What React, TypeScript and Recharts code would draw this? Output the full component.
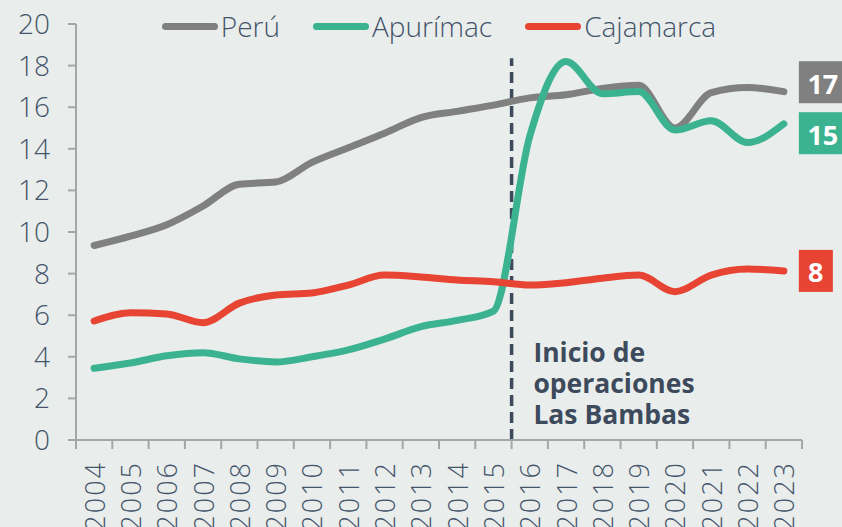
import React from "react";
import {
  LineChart,
  Line,
  XAxis,
  YAxis,
  Legend,
  ReferenceLine,
  ReferenceDot,
} from "recharts";

const years = [
  2004, 2005, 2006, 2007, 2008, 2009, 2010, 2011, 2012, 2013, 2014, 2015,
  2016, 2017, 2018, 2019, 2020, 2021, 2022, 2023,
];
const peru = [
  9.35, 9.8, 10.35, 11.25, 12.3, 12.4, 13.35, 14.05, 14.75, 15.5, 15.8, 16.1,
  16.45, 16.6, 16.9, 17.05, 15.0, 16.7, 16.95, 16.75,
];
const apurimac = [
  3.45, 3.7, 4.05, 4.2, 3.9, 3.75, 4.0, 4.33, 4.85, 5.45, 5.75, 6.2, 14.6,
  18.2, 16.65, 16.75, 14.9, 15.35, 14.3, 15.2,
];
const cajamarca = [
  5.72, 6.12, 6.06, 5.64, 6.58, 6.97, 7.07, 7.45, 7.93, 7.84, 7.69, 7.61,
  7.45, 7.56, 7.78, 7.93, 7.13, 7.93, 8.22, 8.13,
];
const yTicks = [0, 2, 4, 6, 8, 10, 12, 14, 16, 18, 20];
const boundaryTicks = [
  2003.5, 2004.5, 2005.5, 2006.5, 2007.5, 2008.5, 2009.5, 2010.5, 2011.5,
  2012.5, 2013.5, 2014.5, 2015.5, 2016.5, 2017.5, 2018.5, 2019.5, 2020.5,
  2021.5, 2022.5, 2023.5,
];

const series = [
  { key: "peru", name: "Perú", color: "#808080", end: "17", endY: 17.2 },
  { key: "apurimac", name: "Apurímac", color: "#3bb391", end: "15", endY: 14.75 },
  { key: "cajamarca", name: "Cajamarca", color: "#e84433", end: "8", endY: 8.13 },
];

const startYear = 2015.5;
const startTop = 18.35;
const noteLines = ["Inicio de", "operaciones", "Las Bambas"];

const data = years.map((year, i) => ({
  year,
  peru: peru[i],
  apurimac: apurimac[i],
  cajamarca: cajamarca[i],
}));

const FONT = "'Open Sans', sans-serif";
const TEXT = "#44546a";
const AXIS = "#a6a6a6";
const BG = "#e9edec";

function YearTick(props: any) {
  const { x, y, payload } = props;
  return (
    <text
      x={x}
      y={y}
      transform={`rotate(-90, ${x}, ${y})`}
      textAnchor="end"
      dominantBaseline="central"
      fill={TEXT}
      fontSize={27}
      fontWeight={300}
      letterSpacing={2}
      fontFamily={FONT}
    >
      {payload.value}
    </text>
  );
}

function LegendContent() {
  return (
    <div
      style={{
        display: "flex",
        justifyContent: "center",
        gap: 33,
        fontFamily: FONT,
        fontSize: 28,
        fontWeight: 300,
        color: TEXT,
        lineHeight: "38px",
      }}
    >
      {series.map((s) => (
        <div key={s.key} style={{ display: "flex", alignItems: "center" }}>
          <span
            style={{
              display: "inline-block",
              width: 56,
              height: 7,
              borderRadius: 4,
              background: s.color,
              marginRight: 3,
            }}
          />
          <span>{s.name}</span>
        </div>
      ))}
    </div>
  );
}

function EndBox(label: string, color: string) {
  return (props: any) => {
    const { cx, cy } = props;
    const w = label.length > 1 ? 48 : 34;
    return (
      <g>
        <rect x={cx + 15} y={cy - 21} width={w} height={42} fill={color} />
        <text
          x={cx + 15 + (label.length > 1 ? 24 : 17)}
          y={cy + 1}
          textAnchor="middle"
          dominantBaseline="central"
          fill="#ffffff"
          fontSize={27}
          fontWeight={700}
          fontFamily={FONT}
        >
          {label}
        </text>
      </g>
    );
  };
}

function Note(props: any) {
  const { cx, cy } = props;
  return (
    <text
      x={cx}
      y={cy}
      fill="#3d4a5c"
      fontSize={26.5}
      fontWeight={700}
      fontFamily={FONT}
      dominantBaseline="central"
    >
      {noteLines.map((t, i) => (
        <tspan key={t} x={cx} dy={i === 0 ? 0 : 31}>
          {t}
        </tspan>
      ))}
    </text>
  );
}

export default function App() {
  return (
    <div
      style={{
        position: "fixed",
        left: 0,
        top: 0,
        width: 842,
        height: 527,
        background: BG,
        overflow: "hidden",
      }}
    >
      <LineChart
        width={842}
        height={527}
        data={data}
        margin={{ top: 24, right: 40, bottom: 0, left: 0 }}
      >
        <XAxis
          xAxisId="labels"
          dataKey="year"
          type="number"
          domain={[2003.5, 2023.5]}
          ticks={years}
          interval={0}
          height={86}
          axisLine={false}
          tickLine={false}
          tickSize={8}
          tickMargin={12}
          tick={<YearTick />}
        />
        <XAxis
          dataKey="year"
          type="number"
          domain={[2003.5, 2023.5]}
          ticks={boundaryTicks}
          interval={0}
          tickFormatter={() => ""}
          height={1}
          tickSize={9}
          axisLine={{ stroke: AXIS, strokeWidth: 2 }}
          tickLine={{ stroke: AXIS, strokeWidth: 2 }}
        />
        <YAxis
          domain={[0, 20]}
          ticks={yTicks}
          width={76}
          interval={0}
          tickSize={8}
          tickMargin={18}
          axisLine={{ stroke: AXIS, strokeWidth: 2 }}
          tickLine={{ stroke: AXIS, strokeWidth: 2 }}
          tick={{ fill: TEXT, fontSize: 28, fontWeight: 300, fontFamily: FONT }}
        />
        <Legend
          verticalAlign="middle"
          layout="horizontal"
          wrapperStyle={{ top: 7, left: 76, width: 726 }}
          content={<LegendContent />}
        />
        <ReferenceLine
          segment={[
            { x: startYear, y: 0 },
            { x: startYear, y: startTop },
          ]}
          stroke="#3d4a5c"
          strokeWidth={3.5}
          strokeDasharray="11 6"
        />
        {series.map((s) => (
          <Line
            key={s.key}
            dataKey={s.key}
            name={s.name}
            type="monotone"
            stroke={s.color}
            strokeWidth={7}
            strokeLinecap="round"
            dot={false}
            activeDot={false}
            isAnimationActive={false}
          />
        ))}
        {series.map((s) => (
          <ReferenceDot
            key={s.key + "-end"}
            x={years[years.length - 1]}
            y={s.endY}
            ifOverflow="visible"
            shape={EndBox(s.end, s.color)}
          />
        ))}
        <ReferenceDot x={2016.1} y={4.23} ifOverflow="visible" shape={Note} />
      </LineChart>
    </div>
  );
}
